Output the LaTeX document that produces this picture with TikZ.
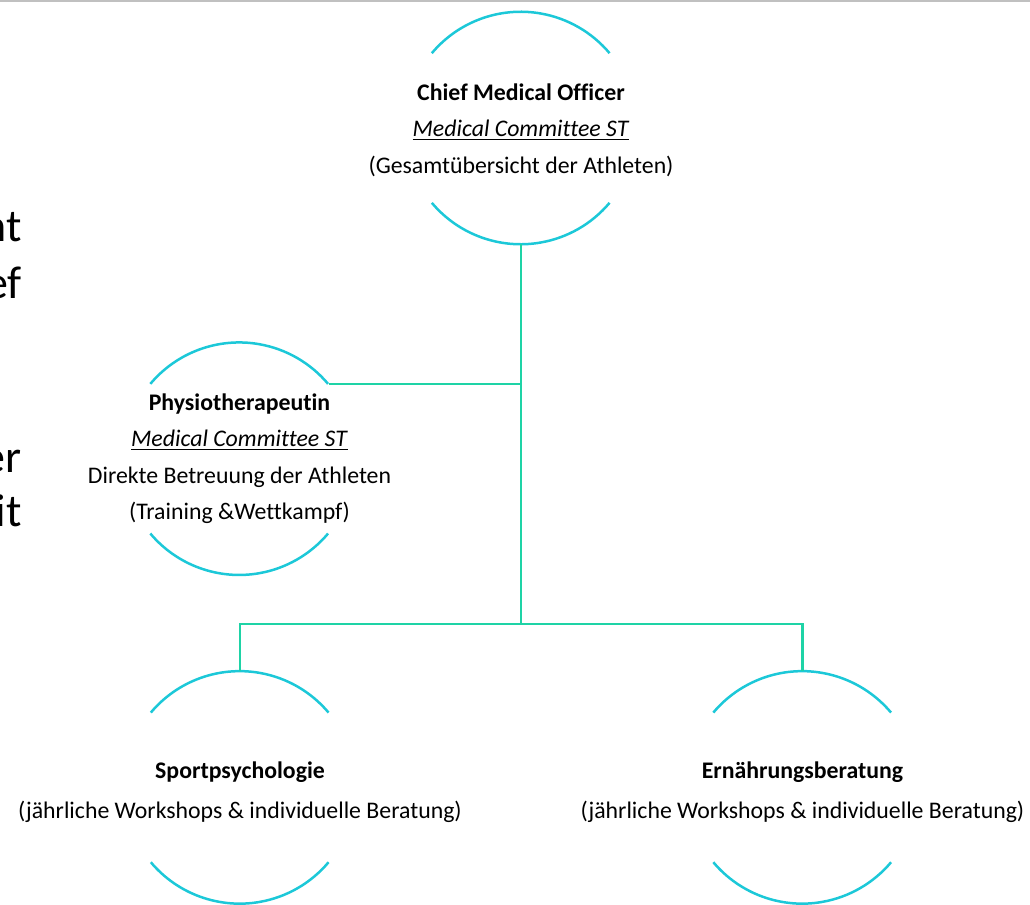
\documentclass[tikz,border=0pt]{standalone}
\usepackage{fontspec}
\setmainfont[Ligatures=NoCommon]{Carlito}
\definecolor{ringcyan}{HTML}{1CC8D8}
\definecolor{linkgreen}{HTML}{1ED3A6}
\definecolor{rulegray}{HTML}{C0C0C0}
\newcommand{\committee}{\underline{\textit{Medical Committee ST}}}

\begin{document}
\begin{tikzpicture}[x=0.5pt,y=-0.5pt,
  member/.style={circle,minimum size=116pt,inner sep=0pt},
  memtext/.style={align=center,inner sep=0pt,font=\fontsize{11.9}{18.3}\selectfont},
  memtextwide/.style={memtext,font=\fontsize{11.9}{20}\selectfont,yshift=-2.5pt},
  ring/.style={draw=ringcyan,line width=1.25pt},
  link/.style={draw=linkgreen,line width=1.3pt},
  frag/.style={anchor=base east,inner sep=0pt,font=\fontsize{23}{28}\selectfont}]
\path[use as bounding box,clip] (0,0) rectangle (1030,905);
\draw[rulegray,line width=0.8pt] (0,1) -- (1030,1);

% leftover text of the slide
\node[frag] (fragA) at (22,241.7) {nt};
\node[frag] (fragB) at (22,298.3) {ef};
\node[frag] (fragC) at (22,472.7) {er};
\node[frag] (fragD) at (22,526.7) {it};

% members
\node[member] (cmo) at (521,128) {};
\node[member] (physio) at (239.5,458.7) {};
\node[member] (sport) at (240,787.4) {};
\node[member] (ern) at (802.5,787.4) {};

\node[memtext,yshift=-1pt] (cmo-txt) at (cmo) {\textbf{Chief Medical Officer}\\ \committee\\ (Gesamtübersicht der Athleten)};
\node[memtext] (physio-txt) at (physio) {\textbf{Physiotherapeutin}\\ \committee\\ Direkte Betreuung der Athleten\\ (Training \&Wettkampf)};
\node[memtextwide] (sport-txt) at (sport) {\textbf{Sportpsychologie}\\ (jährliche Workshops \& individuelle Beratung)};
\node[memtextwide] (ern-txt) at (ern) {\textbf{Ernährungsberatung}\\ (jährliche Workshops \& individuelle Beratung)};

\foreach \n in {cmo,physio,sport,ern} {
  \draw[ring] (\n.140) arc[start angle=140,end angle=40,radius=58pt];
  \draw[ring] (\n.220) arc[start angle=220,end angle=320,radius=58pt];
}

% connectors
\coordinate (split) at (521,624);
\draw[link] (cmo.south) -- (split);
\draw[link] (physio.40) -- (physio.40 -| cmo.south);
\draw[link] (sport.north) |- (split) -| (ern.north);
\end{tikzpicture}
\end{document}
